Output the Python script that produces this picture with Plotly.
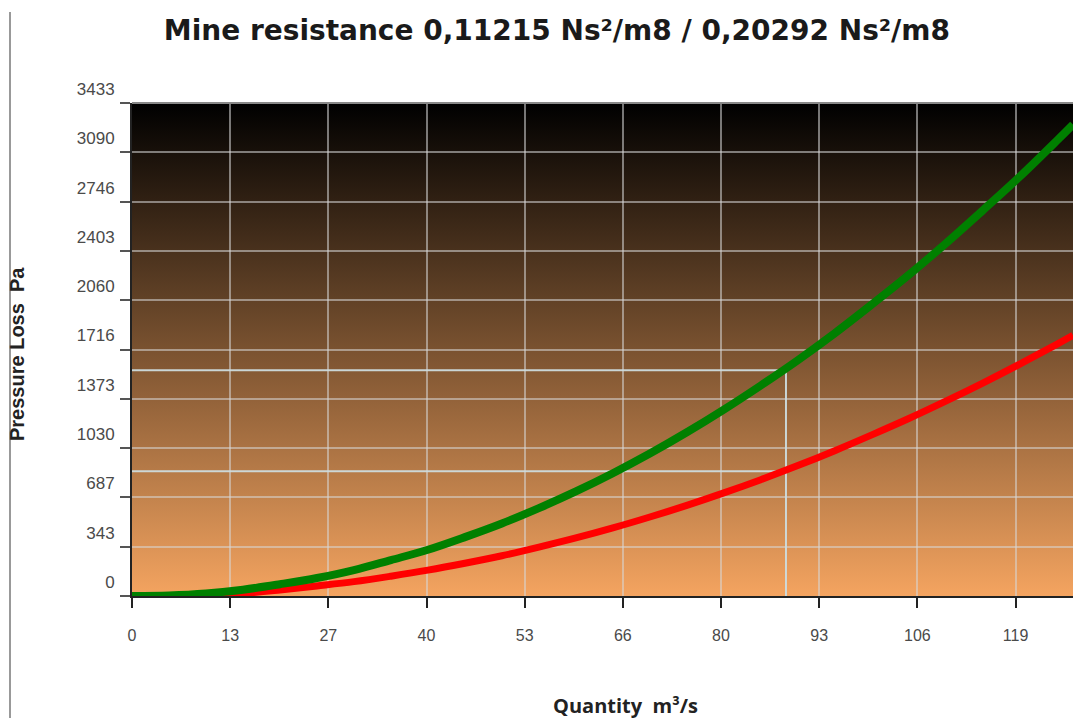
import base64
import plotly.graph_objects as go

# Operating curves: pressure loss (Pa) against air quantity (m³/s)
quantity = [0, 5, 10, 15, 20, 25, 30, 35, 40, 45, 50, 55, 60, 65, 70, 75, 80,
            85, 90, 95, 100, 105, 110, 115, 120, 125, 127.2]
loss_high = [0, 4, 18, 44, 82, 125, 180, 250, 322, 410, 505, 612, 728, 855, 992,
             1140, 1298, 1466, 1642, 1830, 2030, 2236, 2455, 2685, 2920, 3170, 3283]
loss_low = [0, 0, 5, 18, 42, 70, 100, 138, 180, 228, 280, 340, 404, 474, 550,
            631, 718, 810, 908, 1012, 1122, 1236, 1357, 1483, 1615, 1752, 1815]

# Duty point marked with guide lines
duty_q = 88.4
duty_high = 1572
duty_low = 868

x_ticks = [0, 13.27, 26.54, 39.81, 53.08, 66.35, 79.62, 92.89, 106.16, 119.43]
x_labels = ["0", "13", "27", "40", "53", "66", "80", "93", "106", "119"]
y_ticks = [0, 343.3, 686.6, 1029.9, 1373.2, 1716.5, 2059.8, 2403.1, 2746.4, 3089.7, 3433]
y_labels = ["0", "343", "687", "1030", "1373", "1716", "2060", "2403", "2746", "3090", "3433"]

x_max = 127.2
y_max = 3433

title = "Mine resistance 0,11215 Ns²/m8 / 0,20292 Ns²/m8"

W, H = 1073, 718
M_L, M_R, M_T, M_B = 132, 0, 103, 122
plot_w = W - M_L - M_R
plot_h = H - M_T - M_B

# Plot-area background: vertical gradient from black down to sandy brown
svg = (
    '<svg xmlns="http://www.w3.org/2000/svg" width="100" height="100" '
    'preserveAspectRatio="none">'
    '<defs><linearGradient id="g" x1="0" y1="0" x2="0" y2="1">'
    '<stop offset="0" stop-color="#000000"/>'
    '<stop offset="1" stop-color="#f4a460"/>'
    '</linearGradient></defs>'
    '<rect width="100" height="100" fill="url(#g)"/></svg>'
)
bg_src = "data:image/svg+xml;base64," + base64.b64encode(svg.encode()).decode()

fig = go.Figure()

# Guide lines to the duty point
guide = "rgba(205,220,222,0.95)"
fig.add_trace(go.Scatter(x=[0, duty_q], y=[duty_high, duty_high], mode="lines",
                         line=dict(color=guide, width=2), showlegend=False, hoverinfo="skip"))
fig.add_trace(go.Scatter(x=[0, duty_q], y=[duty_low, duty_low], mode="lines",
                         line=dict(color=guide, width=2), showlegend=False, hoverinfo="skip"))
fig.add_trace(go.Scatter(x=[duty_q, duty_q], y=[0, duty_high], mode="lines",
                         line=dict(color=guide, width=2), showlegend=False, hoverinfo="skip"))

fig.add_trace(go.Scatter(x=quantity, y=loss_low, mode="lines",
                         line=dict(color="#ff0000", width=7, shape="spline"),
                         showlegend=False))
fig.add_trace(go.Scatter(x=quantity, y=loss_high, mode="lines",
                         line=dict(color="#008000", width=8, shape="spline"),
                         showlegend=False))

grid = "rgba(215,215,215,0.55)"

fig.update_layout(
    width=W, height=H,
    margin=dict(l=M_L, r=M_R, t=M_T, b=M_B),
    paper_bgcolor="white",
    plot_bgcolor="rgba(0,0,0,0)",
    images=[dict(source=bg_src, xref="paper", yref="paper", x=0, y=1,
                 sizex=1, sizey=1, xanchor="left", yanchor="top",
                 sizing="stretch", layer="below")],
    title=dict(text=title, x=0.519, xanchor="center", y=1 - 30 / H, yanchor="middle",
               font=dict(family="DejaVu Sans, sans-serif", size=28,
                         color="#1a1a1a", weight="bold")),
    xaxis=dict(range=[0, x_max], tickvals=x_ticks, ticktext=x_labels,
               showgrid=True, gridcolor=grid, gridwidth=2,
               ticks="outside", ticklen=10, tickwidth=2, tickcolor="#222",
               ticklabelstandoff=14,
               tickfont=dict(family="Liberation Sans, Arial, sans-serif", size=16,
                             color="#4a4a4a"),
               showline=True, linecolor="#222", linewidth=2, zeroline=False,
               layer="above traces"),
    yaxis=dict(range=[0, y_max], tickvals=y_ticks, ticktext=y_labels,
               showgrid=True, gridcolor=grid, gridwidth=2,
               ticks="outside", ticklen=10, tickwidth=1.5, tickcolor="#555",
               ticklabelshift=-14, ticklabelstandoff=2,
               tickfont=dict(family="Liberation Sans, Arial, sans-serif", size=17,
                             color="#4a4a4a"),
               showline=True, linecolor="#222", linewidth=2, zeroline=False),
    annotations=[
        dict(text="Pressure Loss  Pa", xref="paper", yref="paper",
             x=(17 - M_L) / plot_w, y=(H - M_B - 354) / plot_h,
             xanchor="center", yanchor="middle", textangle=-90, showarrow=False,
             font=dict(family="Liberation Sans, Arial, sans-serif", size=20,
                       color="#222", weight="bold")),
        dict(text="Quantity  m³/s", xref="paper", yref="paper",
             x=(625 - M_L) / plot_w, y=(H - M_B - 705) / plot_h,
             xanchor="center", yanchor="middle", showarrow=False,
             font=dict(family="Open Sans, Liberation Sans, sans-serif", size=20,
                       color="#222", weight="bold")),
    ],
    shapes=[
        # frame line along the top of the plot area
        dict(type="line", xref="paper", yref="paper", x0=0, x1=1, y0=1, y1=1,
             line=dict(color="#888", width=2)),
        # thin rule down the left edge of the page
        dict(type="line", xref="paper", yref="paper",
             x0=(10 - M_L) / plot_w, x1=(10 - M_L) / plot_w,
             y0=(H - M_B - 12) / plot_h, y1=(H - M_B - 720) / plot_h,
             line=dict(color="#777", width=1.5)),
    ],
)

fig.write_html("out.html")
